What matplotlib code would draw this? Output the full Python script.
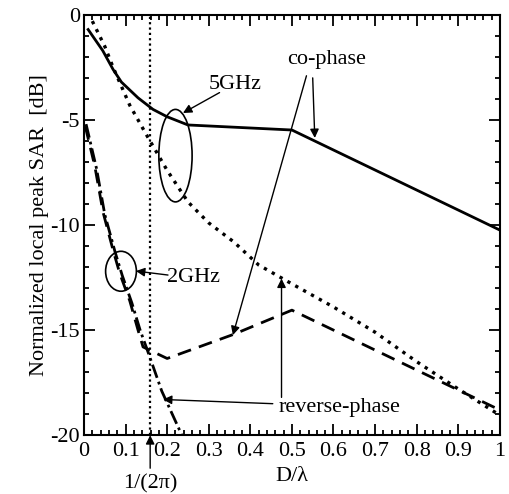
import numpy as np
import matplotlib
matplotlib.use("Agg")
import matplotlib.pyplot as plt
from matplotlib.patches import Ellipse

plt.rcParams['font.family'] = ['Liberation Serif', 'DejaVu Serif']
plt.rcParams['font.size'] = 16
plt.rcParams['axes.unicode_minus'] = False

# 5 GHz, co-phase (solid)
x5_co = [0.01, 0.045, 0.07, 0.09, 0.13, 0.166, 0.2, 0.25, 0.5, 1.0]
y5_co = [-0.7, -1.7, -2.6, -3.2, -3.95, -4.5, -4.85, -5.24, -5.48, -10.24]

# 5 GHz, reverse-phase (dotted)
x5_rev = [0.02, 0.05, 0.07, 0.09, 0.11, 0.15, 0.2, 0.25, 0.3, 0.36, 0.42,
          0.5, 0.6, 0.7, 0.8, 0.9, 1.0]
y5_rev = [-0.3, -1.5, -2.5, -3.4, -4.3, -5.7, -7.4, -8.9, -9.9, -10.8, -11.9,
          -12.8, -13.9, -15.1, -16.5, -17.8, -19.05]

# 2 GHz, co-phase (dashed)
x2_co = [0.003, 0.026, 0.046, 0.07, 0.086, 0.11, 0.13, 0.142, 0.2, 0.36, 0.5, 1.0]
y2_co = [-5.3, -7.2, -9.4, -11.2, -12.3, -13.6, -15.0, -15.8, -16.35, -15.2, -14.05, -18.8]

# 2 GHz, reverse-phase (dash-dot)
x2_rev = [0.005, 0.03, 0.05, 0.075, 0.092, 0.115, 0.135, 0.155, 0.187, 0.24]
y2_rev = [-5.2, -7.3, -9.5, -11.3, -12.4, -13.7, -15.0, -16.1, -17.9, -20.2]

x_mark = 1 / (2 * np.pi)

fig = plt.figure(figsize=(5.09, 4.94), dpi=100)
ax = fig.add_axes([0.165, 0.119, 0.817, 0.851])

ax.plot(x5_co, y5_co, color='k', lw=2)
ax.plot(x5_rev, y5_rev, color='k', lw=2.4, dashes=(1, 1.7))
ax.plot(x2_co, y2_co, color='k', lw=2, dashes=(5, 3))
ax.plot(x2_rev, y2_rev, color='k', lw=2, dashes=(5, 1.5, 1, 1.5))
ax.axvline(x_mark, color='k', lw=1.6, dashes=(1, 1.4))

ax.set_xlim(0, 1)
ax.set_ylim(-20, 0)
ax.set_xticks(np.arange(0, 1.01, 0.1))
ax.set_xticklabels(['0', '0.1', '0.2', '0.3', '0.4', '0.5', '0.6', '0.7', '0.8', '0.9', '1'])
ax.set_xticks(np.arange(0, 1.001, 0.02), minor=True)
ax.set_yticks([-20, -15, -10, -5, 0])
ax.set_yticks(np.arange(-20, 0.1, 1), minor=True)
ax.tick_params(which='both', direction='in', top=True, right=True, width=1.3)
ax.tick_params(which='major', length=8, pad=3)
ax.tick_params(which='minor', length=3.6)
ax.tick_params(axis='x', pad=5)
for s in ax.spines.values():
    s.set_linewidth(1.5)

ax.set_xlabel('D/λ', labelpad=4)
ax.set_ylabel('Normalized local peak SAR  [dB]', labelpad=1)

arr = dict(arrowstyle='-|>', lw=1, color='k', mutation_scale=13, shrinkA=0, shrinkB=0)

ax.add_patch(Ellipse((0.22, -6.7), 0.08, 4.4, fill=False, lw=1.2, color='k'))
ax.add_patch(Ellipse((0.089, -12.2), 0.074, 1.9, fill=False, lw=1.2, color='k'))

ax.text(0.363, -3.33, '5GHz', ha='center', va='center')
ax.annotate('', xy=(0.238, -4.67), xytext=(0.326, -3.7), arrowprops=arr)

ax.text(0.264, -12.5, '2GHz', ha='center', va='center')
ax.annotate('', xy=(0.125, -12.19), xytext=(0.202, -12.38), arrowprops=arr)

ax.text(0.584, -2.14, 'co-phase', ha='center', va='center')
ax.annotate('', xy=(0.555, -5.86), xytext=(0.55, -3.0), arrowprops=arr)
ax.annotate('', xy=(0.358, -15.24), xytext=(0.535, -2.9), arrowprops=arr)

ax.text(0.614, -18.7, 'reverse-phase', ha='center', va='center')
ax.annotate('', xy=(0.475, -12.55), xytext=(0.475, -18.2), arrowprops=arr)
ax.annotate('', xy=(0.19, -18.3), xytext=(0.454, -18.5), arrowprops=arr)

ax.annotate('', xy=(x_mark, -20), xytext=(x_mark, -21.57), arrowprops=arr,
            annotation_clip=False)
ax.text(x_mark, -22.3, '1/(2π)', ha='center', va='center', clip_on=False)

fig.savefig('out.png', dpi=100)
